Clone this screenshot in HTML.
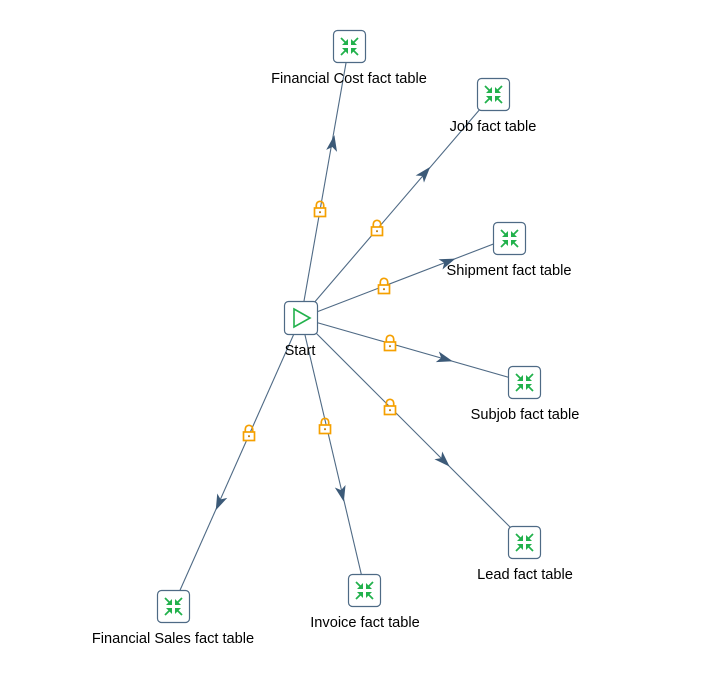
<!DOCTYPE html>
<html><head><meta charset="utf-8"><style>
html,body{margin:0;padding:0;background:#fff;}
svg{display:block;}
text{font-family:"Liberation Sans",sans-serif;font-size:14.6px;fill:#000;text-anchor:middle;}
</style></head><body>
<svg width="726" height="686" viewBox="0 0 726 686" xmlns="http://www.w3.org/2000/svg">
<defs>
<g id="lock">
<path d="M-3.7,-2 V-5 A3.7,3.7 0 0 1 3.7,-5 V-2" fill="none" stroke="#f5a000" stroke-width="1.7"/>
<rect x="-5.5" y="-2" width="11" height="8.5" fill="#fff" stroke="#f5a000" stroke-width="1.7"/>
<rect x="-0.9" y="1.3" width="1.8" height="1.8" fill="#c07800"/>
</g>
<path id="ah" d="M8,0 L-8,-5.5 L-4,0 L-8,5.5 Z" fill="#3c5a78"/>
<g id="cmp">
<rect x="0.5" y="0.5" width="32" height="32" rx="4" fill="#fff" stroke="#4e6a85" stroke-width="1.2"/>
<g stroke="#22b14c" stroke-width="1.8" fill="#22b14c">
<line x1="8" y1="8" x2="13" y2="13"/><path d="M15,15 L9,15 L15,9 Z" stroke="none"/>
<line x1="25" y1="8" x2="20" y2="13"/><path d="M18,15 L24,15 L18,9 Z" stroke="none"/>
<line x1="8" y1="25" x2="13" y2="20"/><path d="M15,18 L9,18 L15,24 Z" stroke="none"/>
<line x1="25" y1="25" x2="20" y2="20"/><path d="M18,18 L24,18 L18,24 Z" stroke="none"/>
</g>
</g>
</defs>
<g stroke="#4f6a85" stroke-width="1.1">
<line x1="301" y1="318" x2="349" y2="46"/>
<line x1="301" y1="318" x2="493" y2="94"/>
<line x1="301" y1="318" x2="509" y2="238"/>
<line x1="301" y1="318" x2="525" y2="382"/>
<line x1="301" y1="318" x2="525" y2="542"/>
<line x1="301" y1="318" x2="365" y2="590"/>
<line x1="301" y1="318" x2="173" y2="606"/>
</g>
<use href="#ah" transform="translate(333,143) rotate(-80)"/>
<use href="#ah" transform="translate(425,173) rotate(-49.4)"/>
<use href="#ah" transform="translate(448,261.5) rotate(-21)"/>
<use href="#ah" transform="translate(445,359) rotate(15.9)"/>
<use href="#ah" transform="translate(444,461) rotate(45)"/>
<use href="#ah" transform="translate(342,494) rotate(76.8)"/>
<use href="#ah" transform="translate(219,503) rotate(114)"/>
<use href="#lock" transform="translate(320,210)"/>
<use href="#lock" transform="translate(377,229)"/>
<use href="#lock" transform="translate(384,287)"/>
<use href="#lock" transform="translate(390,344)"/>
<use href="#lock" transform="translate(390,408)"/>
<use href="#lock" transform="translate(325,427)"/>
<use href="#lock" transform="translate(249,434)"/>
<rect x="284.5" y="301.5" width="33" height="33" rx="4" fill="#fff" stroke="#4e6a85" stroke-width="1.2"/>
<path d="M294,309 L310,318 L294,327 Z" fill="none" stroke="#22b14c" stroke-width="1.6"/>
<use href="#cmp" transform="translate(333,30)"/>
<use href="#cmp" transform="translate(477,78)"/>
<use href="#cmp" transform="translate(493,222)"/>
<use href="#cmp" transform="translate(508,366)"/>
<use href="#cmp" transform="translate(508,526)"/>
<use href="#cmp" transform="translate(348,574)"/>
<use href="#cmp" transform="translate(157,590)"/>
<text x="300" y="355">Start</text>
<text x="349" y="83">Financial Cost fact table</text>
<text x="493" y="131">Job fact table</text>
<text x="509" y="275">Shipment fact table</text>
<text x="525" y="419">Subjob fact table</text>
<text x="525" y="579">Lead fact table</text>
<text x="365" y="627">Invoice fact table</text>
<text x="173" y="643">Financial Sales fact table</text>
</svg>
</body></html>
